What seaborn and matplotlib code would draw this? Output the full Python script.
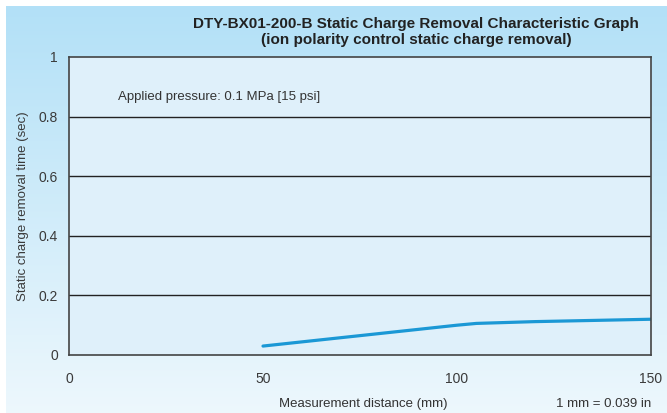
import numpy as np
import pandas as pd
import matplotlib
matplotlib.use("Agg")
import matplotlib.pyplot as plt
import seaborn as sns

# data
distance_mm = [50, 60, 70, 80, 90, 100, 105, 120, 135, 150]
removal_sec = [0.030, 0.044, 0.058, 0.072, 0.086, 0.100, 0.106, 0.112, 0.116, 0.120]
x_ticks = [0, 50, 100, 150]
y_ticks = [0, 0.2, 0.4, 0.6, 0.8, 1]
y_tick_labels = ["0", "0.2", "0.4", "0.6", "0.8", "1"]

sns.set_theme(style="white")
plt.rcParams["font.family"] = ["Liberation Sans", "DejaVu Sans"]

df = pd.DataFrame({"distance": distance_mm, "time": removal_sec})

fig = plt.figure(figsize=(6.67, 4.13), dpi=100)
fig.patch.set_facecolor("white")

# gradient background panel
bg = fig.add_axes([6 / 667, 0, 1 - 6 / 667, 1 - 6 / 413])
grad = np.linspace(0, 1, 256).reshape(-1, 1)
top = np.array([0.70, 0.88, 0.97])
bottom = np.array([0.93, 0.97, 0.99])
img = top * (1 - grad[..., None]) + bottom * grad[..., None]
img = np.concatenate([img] * 2, axis=1)
bg.imshow(img, aspect="auto", extent=[0, 1, 0, 1])
bg.set_axis_off()

ax = fig.add_axes([69 / 667, 58 / 413, (651 - 69) / 667, (356 - 58) / 413])
ax.set_facecolor("#dff0fa")

sns.lineplot(data=df, x="distance", y="time", ax=ax, color="#1b98d5", linewidth=2.3)

ax.set_xlim(0, 150)
ax.set_ylim(0, 1)
ax.set_xticks(x_ticks)
ax.set_yticks(y_ticks)
ax.set_yticklabels(y_tick_labels)
for y in y_ticks[1:-1]:
    ax.axhline(y, color="#222222", linewidth=1.0, zorder=1)

for s in ax.spines.values():
    s.set_color("#444444")
    s.set_linewidth(1.2)

ax.tick_params(axis="x", direction="in", length=4, width=1, color="#444444",
               pad=12, labelsize=10, labelcolor="#3a3a3a")
ax.tick_params(axis="y", length=0, pad=8, labelsize=10, labelcolor="#3a3a3a")
ax.set_xlabel("")
ax.set_ylabel("Static charge removal time (sec)", fontsize=9.5, color="#3a3a3a", labelpad=4)
ax.yaxis.set_label_coords(-0.068, 0.5)

ax.text(0.085, 0.865, "Applied pressure: 0.1 MPa [15 psi]", transform=ax.transAxes,
        fontsize=9.5, color="#333333", va="center")

fig.text(363 / 667, 1 - 404 / 413, "Measurement distance (mm)", ha="center", va="center",
         fontsize=9.5, color="#333333")
fig.text(651 / 667, 1 - 404 / 413, "1 mm = 0.039 in", ha="right", va="center",
         fontsize=9.5, color="#333333")

fig.text(416 / 667, 1 - 32 / 413,
         "DTY-BX01-200-B Static Charge Removal Characteristic Graph\n(ion polarity control static charge removal)",
         ha="center", va="center", fontsize=11, fontweight="bold", color="#222222",
         linespacing=1.15)

fig.savefig("out.png", dpi=100)
